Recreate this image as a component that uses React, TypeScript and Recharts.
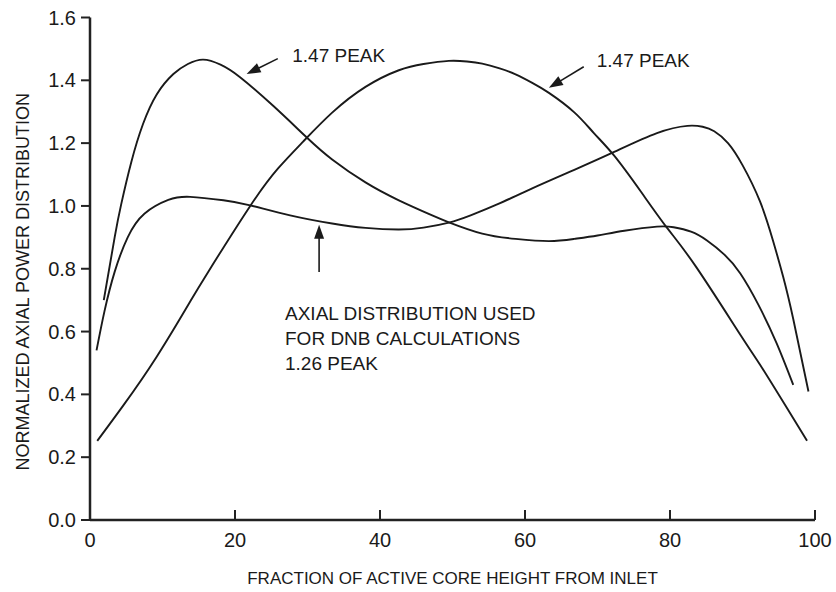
import React from 'react';
import { LineChart, Line, XAxis, YAxis, ReferenceLine, ReferenceDot, Label } from 'recharts';

// Axis ticks
const xTicks = [0, 20, 40, 60, 80, 100];
const yTicks = [0, 0.2, 0.4, 0.6, 0.8, 1.0, 1.2, 1.4, 1.6];

// Curve peaked near the inlet (1.47 peak)
const bottomPeakX = [1.9, 3.4, 4.3, 5.7, 7.3, 9.2, 11.5, 13.5, 15.6, 18, 20.7, 25.3, 29.9, 33.4, 38.0, 42.6, 47.2, 49.5, 54.1, 58.7, 63.3, 66.8, 70, 73.7, 78.2, 80.5, 82.9, 85.1, 87.5, 89.7, 92.2, 94.7, 97.0];
const bottomPeakY = [0.70, 0.90, 1.005, 1.14, 1.26, 1.355, 1.42, 1.452, 1.466, 1.45, 1.41, 1.318, 1.218, 1.148, 1.075, 1.018, 0.97, 0.948, 0.912, 0.895, 0.888, 0.895, 0.906, 0.921, 0.934, 0.932, 0.918, 0.89, 0.845, 0.785, 0.685, 0.563, 0.43];

// Design (DNB) distribution, 1.26 peak
const dnbX = [0.9, 2.0, 3.4, 5.2, 7.5, 10.8, 13.8, 18.4, 22.1, 27.6, 33.4, 38, 42.6, 46, 49.5, 52.5, 56.4, 61.0, 66.8, 72.3, 78.2, 82.4, 84.5, 86.1, 88, 90, 92.4, 94.2, 95.6, 97.0, 99.1];
const dnbY = [0.54, 0.665, 0.79, 0.9, 0.975, 1.019, 1.029, 1.018, 1.002, 0.970, 0.944, 0.93, 0.925, 0.931, 0.947, 0.97, 1.007, 1.056, 1.115, 1.172, 1.232, 1.255, 1.252, 1.238, 1.20, 1.13, 1.015, 0.89, 0.775, 0.64, 0.409];

// Center-peaked curve (1.47 peak)
const centerPeakX = [1.0, 4.6, 9.2, 13.8, 16.3, 22.1, 26, 29.4, 33.4, 38.0, 42.6, 46, 49.5, 52, 54.1, 56.5, 58.7, 61, 63.3, 66.8, 69.5, 72.3, 76.0, 79.6, 83.6, 89.7, 92.4, 95.9, 98.9];
const centerPeakY = [0.252, 0.365, 0.52, 0.695, 0.79, 1.0, 1.121, 1.205, 1.297, 1.379, 1.432, 1.452, 1.462, 1.46, 1.453, 1.438, 1.419, 1.392, 1.36, 1.298, 1.232, 1.16, 1.045, 0.93, 0.806, 0.59, 0.495, 0.365, 0.252];

// Annotation texts
const peakLabelLeft = ['1.47 PEAK'];
const peakLabelRight = ['1.47 PEAK'];
const dnbLabel = ['AXIAL DISTRIBUTION USED', 'FOR DNB CALCULATIONS', '1.26 PEAK'];

const toPoints = (xs: number[], ys: number[]) => xs.map((x, i) => ({ x, y: ys[i] }));
const bottomPeakData = toPoints(bottomPeakX, bottomPeakY);
const dnbData = toPoints(dnbX, dnbY);
const centerPeakData = toPoints(centerPeakX, centerPeakY);

const FONT = '"Liberation Sans", Arial, Helvetica, sans-serif';
const INK = '#1a1a1a';

const Arrow = (props: any) => {
  const { x1, y1, x2, y2 } = props;
  const dx = x2 - x1;
  const dy = y2 - y1;
  const len = Math.hypot(dx, dy) || 1;
  const ux = dx / len;
  const uy = dy / len;
  const hl = 14;
  const hw = 5;
  const bx = x2 - ux * hl;
  const by = y2 - uy * hl;
  const pts = `${x2},${y2} ${bx - uy * hw},${by + ux * hw} ${bx + uy * hw},${by - ux * hw}`;
  return (
    <g>
      <line x1={x1} y1={y1} x2={bx + ux * 2} y2={by + uy * 2} stroke={INK} strokeWidth={1.6} />
      <polygon points={pts} fill={INK} />
    </g>
  );
};

const makeText = (lines: string[]) => (props: any) => {
  const { cx, cy } = props;
  return (
    <text x={cx} y={cy} fontFamily={FONT} fontSize={19} fill={INK} textAnchor="start">
      {lines.map((l, i) => (
        <tspan key={i} x={cx} dy={i === 0 ? 0 : 24.8}>
          {l}
        </tspan>
      ))}
    </text>
  );
};

const YTitle = (p: any) => {
  const vb = p.viewBox;
  const cx = vb.x + 9;
  const cy = vb.y + vb.height / 2 + 13;
  return (
    <text
      x={cx}
      y={cy}
      transform={`rotate(-90 ${cx} ${cy})`}
      textAnchor="middle"
      fontSize={18}
      fill={INK}
      fontFamily={FONT}
    >
      NORMALIZED AXIAL POWER DISTRIBUTION
    </text>
  );
};

const axisLine = { stroke: '#222', strokeWidth: 2.5 };
const tickLine = { stroke: '#222', strokeWidth: 2 };
const tickStyle = { fontSize: 20, fill: INK, fontFamily: FONT };

export default function App() {
  return (
    <div style={{ position: 'absolute', left: 0, top: 0, width: 836, height: 592, background: '#fff' }}>
      <LineChart
        width={836}
        height={592}
        margin={{ top: 17.5, right: 21, bottom: 32, left: 20 }}
      >
        <XAxis
          dataKey="x"
          type="number"
          domain={[0, 100]}
          ticks={xTicks}
          allowDataOverflow
          height={40}
          axisLine={axisLine}
          tickLine={tickLine}
          tickSize={-10}
          tickMargin={23}
          tick={tickStyle}
        >
          <Label
            value="FRACTION OF ACTIVE CORE HEIGHT FROM INLET"
            position="bottom"
            offset={12}
            style={{ fontSize: 17, fill: INK, fontFamily: FONT }}
          />
        </XAxis>
        <XAxis
          xAxisId="top"
          orientation="top"
          type="number"
          domain={[0, 100]}
          ticks={xTicks}
          allowDataOverflow
          height={0}
          axisLine={axisLine}
          tickLine={tickLine}
          tickSize={-5}
          tickFormatter={() => ''}
        />
        <YAxis
          type="number"
          domain={[0, 1.6]}
          ticks={yTicks}
          allowDataOverflow
          width={70}
          axisLine={axisLine}
          tickLine={tickLine}
          tickSize={9}
          tickMargin={5}
          tick={tickStyle}
          tickFormatter={(v: number) => v.toFixed(1)}
          label={<Label content={YTitle} />}
        />
        <YAxis
          yAxisId="right"
          orientation="right"
          type="number"
          domain={[0, 1.6]}
          ticks={yTicks}
          allowDataOverflow
          width={0}
          axisLine={axisLine}
          tickLine={tickLine}
          tickSize={-5}
          tickFormatter={() => ''}
        />
        <Line data={bottomPeakData} dataKey="y" type="natural" stroke={INK} strokeWidth={1.9} dot={false} isAnimationActive={false} />
        <Line data={dnbData} dataKey="y" type="natural" stroke={INK} strokeWidth={1.9} dot={false} isAnimationActive={false} />
        <Line data={centerPeakData} dataKey="y" type="natural" stroke={INK} strokeWidth={1.9} dot={false} isAnimationActive={false} />

        <ReferenceLine segment={[{ x: 25.9, y: 1.469 }, { x: 21.6, y: 1.42 }]} shape={Arrow} ifOverflow="visible" />
        <ReferenceLine segment={[{ x: 68.1, y: 1.443 }, { x: 63.3, y: 1.376 }]} shape={Arrow} ifOverflow="visible" />
        <ReferenceLine segment={[{ x: 31.6, y: 0.79 }, { x: 31.6, y: 0.94 }]} shape={Arrow} ifOverflow="visible" />

        <ReferenceDot x={27.9} y={1.459} r={0} shape={makeText(peakLabelLeft)} ifOverflow="visible" />
        <ReferenceDot x={69.9} y={1.443} r={0} shape={makeText(peakLabelRight)} ifOverflow="visible" />
        <ReferenceDot x={26.9} y={0.637} r={0} shape={makeText(dnbLabel)} ifOverflow="visible" />
      </LineChart>
    </div>
  );
}
